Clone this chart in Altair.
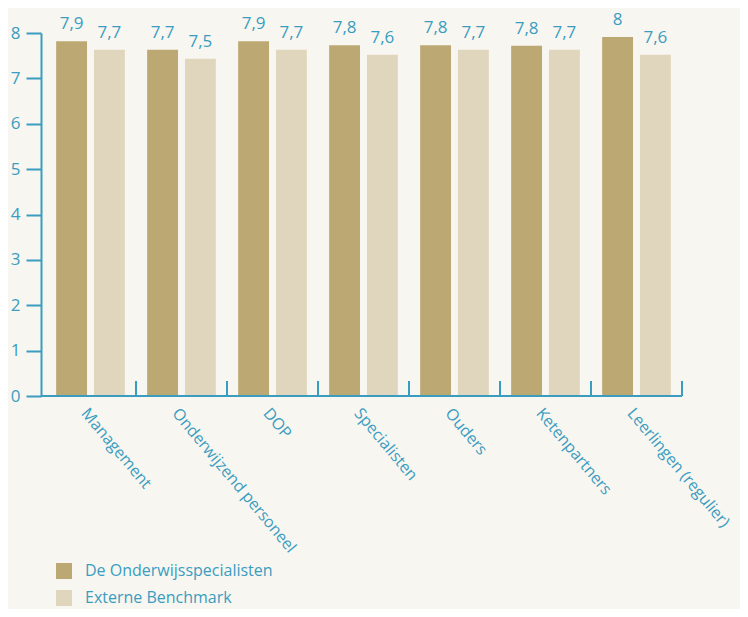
import altair as alt
import pandas as pd

categories = ["Management", "Onderwijzend personeel", "DOP", "Specialisten",
              "Ouders", "Ketenpartners", "Leerlingen (regulier)"]
series = ["De Onderwijsspecialisten", "Externe Benchmark"]
# bar heights
ows_values = [7.82, 7.63, 7.82, 7.73, 7.73, 7.72, 7.91]
ext_values = [7.63, 7.43, 7.63, 7.52, 7.63, 7.63, 7.52]
# printed value labels
ows_labels = ["7,9", "7,7", "7,9", "7,8", "7,8", "7,8", "8"]
ext_labels = ["7,7", "7,5", "7,7", "7,6", "7,7", "7,7", "7,6"]
y_ticks = [0, 1, 2, 3, 4, 5, 6, 7, 8]

TEAL = "#3a9dbf"
DARK = "#bca872"
LIGHT = "#e0d6bd"
BG = "#f8f6f1"
W, H = 637, 363

rows = []
for c, a, b, la, lb in zip(categories, ows_values, ext_values, ows_labels, ext_labels):
    rows.append({"cat": c, "series": series[0], "value": a, "label": la})
    rows.append({"cat": c, "series": series[1], "value": b, "label": lb})
df = pd.DataFrame(rows)

x_enc = alt.X("cat:N", sort=categories,
              scale=alt.Scale(paddingInner=0, paddingOuter=0),
              axis=alt.Axis(title=None, labelAngle=50, labelAlign="left",
                            labelBaseline="top", labelPadding=9, ticks=False,
                            domain=False, labelFontSize=16, labelColor=TEAL,
                            labelFont="Open Sans", labelLimit=400))
xoff = alt.XOffset("series:N", sort=series,
                   scale=alt.Scale(paddingInner=0.184, paddingOuter=0.295))
y_enc = alt.Y("value:Q", scale=alt.Scale(domain=[0, 8], nice=False),
              axis=alt.Axis(title=None, values=y_ticks, grid=False, tickSize=15,
                            tickWidth=2, domainWidth=2, tickColor=TEAL,
                            domainColor=TEAL, labelColor=TEAL, labelFontSize=17,
                            labelFont="Open Sans", labelPadding=6, offset=4))

base = alt.Chart(df)

bars = base.mark_bar().encode(
    x=x_enc, xOffset=xoff, y=y_enc,
    color=alt.Color("series:N", sort=series,
                    scale=alt.Scale(domain=series, range=[DARK, LIGHT]),
                    legend=alt.Legend(title=None, orient="none", legendX=11,
                                      legendY=530, symbolType="square",
                                      symbolSize=256, symbolStrokeWidth=0,
                                      labelFontSize=16, labelColor=TEAL,
                                      labelFont="Open Sans", labelOffset=13,
                                      labelLimit=400, rowPadding=11,
                                      symbolOpacity=1)),
)

texts = base.mark_text(baseline="bottom", dy=-8, fontSize=17, color=TEAL,
                       font="Open Sans").encode(
    x=alt.X("cat:N", sort=categories), xOffset=alt.XOffset("series:N", sort=series),
    y="value:Q", text="label:N")

axis_line = alt.Chart(pd.DataFrame({"a": [0]})).mark_rule(
    color=TEAL, strokeWidth=2).encode(
    x=alt.value(-4), x2=alt.value(W), y=alt.value(H))

sep_ticks = alt.Chart(pd.DataFrame({"cat": categories})).mark_rule(
    color=TEAL, strokeWidth=2).encode(
    x=alt.X("cat:N", sort=categories, bandPosition=1),
    y=alt.value(H - 15), y2=alt.value(H))

chart = alt.layer(bars, texts, sep_ticks, axis_line).properties(
    width=W, height=H, background=BG,
    autosize=alt.AutoSizeParams(type="none"),
    padding={"left": 37, "top": 25, "right": 58, "bottom": 213},
).configure_view(stroke=None)

chart.save("out.html", embed_options={"renderer": "svg", "actions": False})
